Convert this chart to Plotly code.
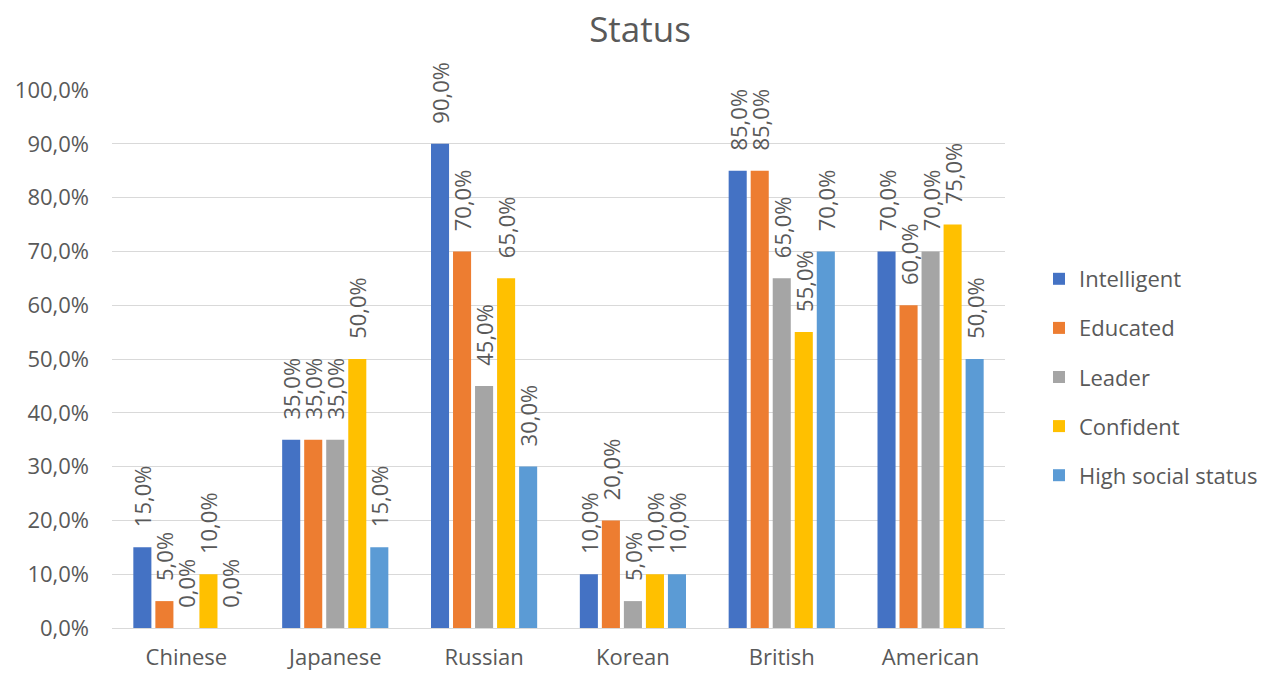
import plotly.graph_objects as go

categories = ["Chinese", "Japanese", "Russian", "Korean", "British", "American"]
series_names = ["Intelligent", "Educated", "Leader", "Confident", "High social status"]
intelligent = [0.15, 0.35, 0.90, 0.10, 0.85, 0.70]
educated = [0.05, 0.35, 0.70, 0.20, 0.85, 0.60]
leader = [0.00, 0.35, 0.45, 0.05, 0.65, 0.70]
confident = [0.10, 0.50, 0.65, 0.10, 0.55, 0.75]
high_status = [0.00, 0.15, 0.30, 0.10, 0.70, 0.50]
colors = ["#4472C4", "#ED7D31", "#A5A5A5", "#FFC000", "#5B9BD5"]

series_values = [intelligent, educated, leader, confident, high_status]
FONT = "Open Sans"
TXT = "#595959"
FS = 22

fig = go.Figure()
for name, vals, col in zip(series_names, series_values, colors):
    fig.add_trace(go.Bar(
        x=categories, y=vals, name=name, marker_color=col,
        marker_line_width=0,
        texttemplate="\u00a0\u00a0\u00a0%{y:.1%}", textposition="outside", textangle=-90,
        constraintext="none", cliponaxis=False,
        textfont=dict(family=FONT, size=FS, color=TXT),
        legendgroup=name,
    ))

fig.update_layout(
    width=1263, height=673,
    separators=",.",
    paper_bgcolor="white", plot_bgcolor="white",
    margin=dict(l=112, r=258, t=90, b=45, autoexpand=False),
    barmode="group", bargap=0.26, bargroupgap=0.18,
    font=dict(family=FONT, color=TXT, size=FS),
    title=dict(text="Status", x=640/1263, xanchor="center", y=1-30/673, yanchor="middle",
               font=dict(family=FONT, size=35, color=TXT)),
    legend=dict(xref="container", yref="container", x=1039/1263, xanchor="left",
                y=1-377/673, yanchor="middle", font=dict(family=FONT, size=FS, color=TXT),
                tracegroupgap=17.5, bgcolor="rgba(0,0,0,0)"),
    showlegend=True,
)
fig.update_xaxes(showgrid=False, showline=True, linecolor="#D9D9D9", linewidth=1,
                 ticks="", ticklabelstandoff=10, automargin=False,
                 tickfont=dict(family=FONT, size=FS, color=TXT))
fig.update_yaxes(range=[0, 1], dtick=0.1, tick0=0, tickformat=".1%",
                 showgrid=True, gridcolor="#D9D9D9", gridwidth=1, automargin=False,
                 zeroline=False, showline=False, ticks="", ticklabelstandoff=22,
                 tickfont=dict(family=FONT, size=FS, color=TXT))

fig.write_html("out.html")
